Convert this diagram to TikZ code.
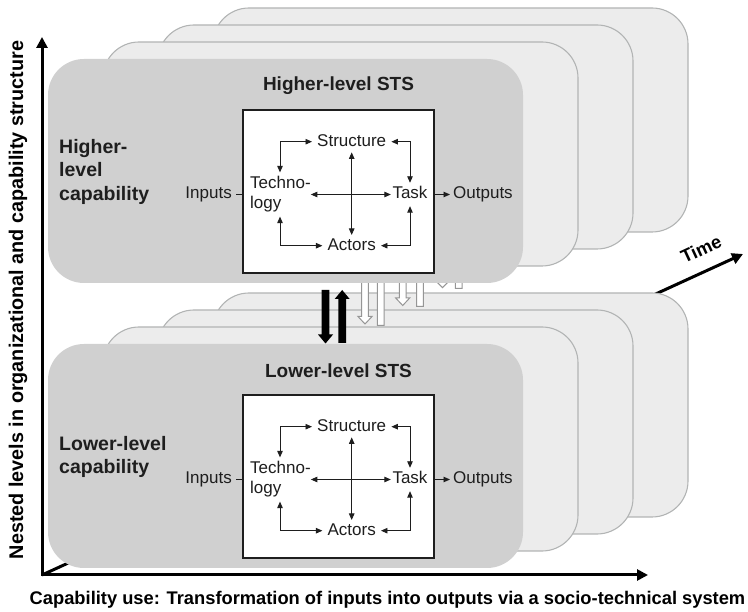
\documentclass[tikz,border=0pt]{standalone}
\usepackage{fontspec}
\setmainfont{Liberation Sans}
\usetikzlibrary{arrows.meta}

\definecolor{frontgray}{RGB}{208,208,208}
\definecolor{backgray}{RGB}{236,236,236}
\definecolor{backline}{RGB}{178,180,180}
\definecolor{hollowline}{RGB}{150,150,150}
\definecolor{ink}{RGB}{30,30,30}

\tikzset{
  panel/.style={minimum width=475pt, minimum height=224pt, inner sep=0pt, rounded corners=36pt},
  panelfront/.style={panel, fill=frontgray},
  panelback/.style={panel, fill=backgray, draw=backline, line width=1.1pt},
  stsbox/.style={draw=ink, fill=white, line width=1.3pt, minimum width=191pt, minimum height=163pt, inner sep=0pt},
  lbl/.style={font=\fontsize{17}{20}\selectfont, text=ink, text height=12.5pt, text depth=3.5pt, inner xsep=5pt, inner ysep=2.5pt},
  techlbl/.style={font=\fontsize{17}{20}\selectfont, text=ink, align=left, inner xsep=0pt, inner ysep=4pt},
  rel/.style={draw=ink, line width=0.9pt, arrows={Triangle[length=6.5pt,width=5.5pt]-Triangle[length=6.5pt,width=5.5pt]}},
  flow/.style={draw=ink, line width=0.9pt, arrows={-Triangle[length=6.5pt,width=5.5pt]}},
  plainline/.style={draw=ink, line width=0.9pt},
  title/.style={font=\bfseries\fontsize{19}{23}\selectfont, text=ink},
  caplbl/.style={font=\bfseries\fontsize{19.5}{23.5}\selectfont, text=ink, align=left, anchor=west, inner sep=0pt},
  axisline/.style={line width=3pt, draw=black, line join=miter},
  axislbl/.style={font=\bfseries\fontsize{18.3}{22}\selectfont, text=black},
  hollow/.style={fill=white, draw=hollowline, line width=1pt},
  solidarrow/.style={fill=black},
}

% block arrow: style, x, tail y, head base y, tip y, half shaft, half head
\newcommand\blockarrow[7]{%
  \path[#1] (#2-#6,#3) -- (#2-#6,#4) -- (#2-#7,#4) -- (#2,#5) -- (#2+#7,#4)
    -- (#2+#6,#4) -- (#2+#6,#3) -- cycle;}

% socio-technical system box: name prefix, vertical offset
\newcommand\stsdiagram[2]{%
  \begin{scope}[shift={(0,#2)}]
    \node[stsbox] (#1box) at (338.5,191.5) {};
    \node[lbl] (#1str) at (351.7,141.7) {Structure};
    \node[lbl, inner xsep=1.5pt, inner ysep=3.5pt] (#1task) at (410,194.5) {Task};
    \node[lbl] (#1act) at (351.7,245.7) {Actors};
    \node[techlbl, anchor=west] (#1tech) at (250,194.5) {Techno-\\logy};
    \node[lbl, anchor=east, inner xsep=4pt] (#1in) at (236,194.5) {Inputs};
    \node[lbl, anchor=west, inner xsep=3pt] (#1out) at (450,194.5) {Outputs};
    \coordinate (#1c1) at (280,141.7);
    \coordinate (#1c2) at (410,141.7);
    \coordinate (#1c3) at (280,245.7);
    \coordinate (#1c4) at (410,245.7);
    \draw[rel] (#1tech.north -| #1c1) -- (#1c1) -- (#1str.west);
    \draw[rel] (#1str.east) -- (#1c2) -- (#1task.north);
    \draw[rel] (#1tech.south -| #1c3) -- (#1c3) -- (#1act.west);
    \draw[rel] (#1act.east) -- (#1c4) -- (#1task.south);
    \draw[rel] (#1tech.east) -- (#1task.west);
    \draw[rel] (#1str.south) -- (#1act.north);
    \draw[plainline] (#1in.east) -- (#1box.west |- #1in.east);
    \draw[flow] (#1box.east |- #1out.west) -- (#1out.west);
  \end{scope}}

\begin{document}
\begin{tikzpicture}[x=1pt,y=-1pt]
\useasboundingbox (0,0) rectangle (748,612);

% time axis, running behind the panels
\coordinate (origin) at (42,575);
\coordinate (timeEnd) at (743,254);
\coordinate (levelEnd) at (42,37);
\coordinate (useEnd) at (648,575);
\draw[axisline, arrows={-Triangle[length=11pt,width=11pt]}] (origin) -- (timeEnd);

% lower level: later time slices
\node[panelback] (lo4) at (450.5,405) {};
\node[panelback] (lo3) at (395.5,422) {};
\node[panelback] (lo2) at (340.5,439) {};

% interactions between levels in later time slices
\blockarrow{hollow}{365}{270}{316.5}{324}{3.3}{7}
\blockarrow{hollow}{380.7}{325.5}{282}{274}{3.3}{7}
\blockarrow{hollow}{402.7}{270}{298}{305.5}{3.3}{7}
\blockarrow{hollow}{420}{306.5}{282}{274}{3.3}{7}
\blockarrow{hollow}{442.5}{270}{280.5}{287.7}{3.3}{7}
\blockarrow{hollow}{458.7}{288.5}{282}{274}{3.3}{7}

\node[panelfront] (lo1) at (285.5,456) {};

% higher level: later time slices
\node[panelback] (hi4) at (450.5,120) {};
\node[panelback] (hi3) at (395.5,137) {};
\node[panelback] (hi2) at (340.5,154) {};
\node[panelfront] (hi1) at (285.5,171) {};

% interactions between levels now
\blockarrow{solidarrow}{325.5}{290}{334.5}{343.5}{3.8}{7.5}
\blockarrow{solidarrow}{342.2}{343}{299}{290}{3.8}{7.5}

% panel captions
\node[title] (hititle) at (338.5,86) {Higher-level STS};
\node[title] (lotitle) at (338.5,371) {Lower-level STS};
\node[caplbl] (hicap) at (59,171.5) {Higher-\\level\\capability};
\node[caplbl] (locap) at (59,457) {Lower-level\\capability};

\stsdiagram{h}{0}
\stsdiagram{l}{285}

% axes
\draw[axisline, arrows={Triangle[length=11pt,width=11pt]-Triangle[length=11pt,width=11pt]}]
  (levelEnd) -- (origin) -- (useEnd);
\node[axislbl, font=\bfseries\fontsize{19.8}{23}\selectfont, rotate=90] (levellbl) at (18,300) {Nested levels in organizational and capability structure};
\node[axislbl] (uselbl) at (387.5,600) {Capability use: Transformation of inputs into outputs via a socio-technical system};
\node[axislbl, rotate=25] (timelbl) at (701,249) {Time};
\end{tikzpicture}
\end{document}
